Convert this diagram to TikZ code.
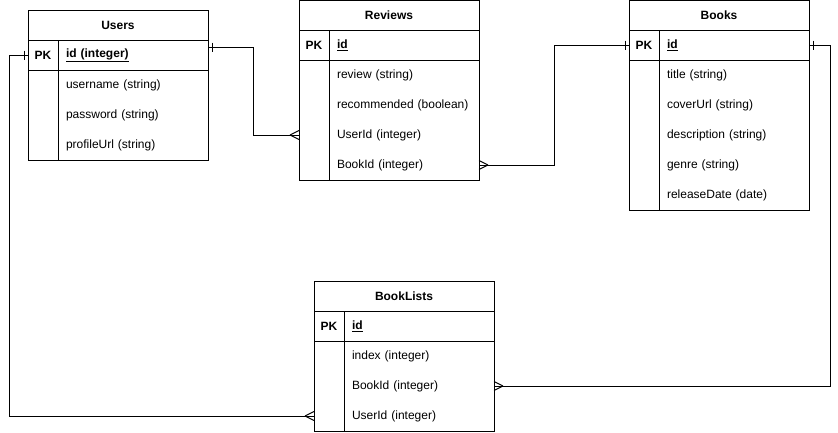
\documentclass[tikz,border=0pt]{standalone}
\usepackage{fontspec}
\setmainfont{Liberation Sans}
\begin{document}
\begin{tikzpicture}[x=1bp,y=-1bp,line width=1bp,
            every node/.style={inner sep=0pt,outer sep=0pt,font=\fontsize{12bp}{14bp}\selectfont},
            hdr/.style={anchor=north west,minimum width=180bp,minimum height=30bp,font=\fontsize{12bp}{14bp}\selectfont\bfseries},
            keycell/.style={anchor=north west,minimum width=30bp,minimum height=30bp,font=\fontsize{12bp}{14bp}\selectfont\bfseries},
            field/.style={anchor=north west,minimum height=30bp,inner xsep=8bp,text width=134bp,align=left}]
            \useasboundingbox (0,0) rectangle (838,432);
            % Users
            \node[hdr] (users) at (28,10) {Users};
            \node[keycell] (users-pk) at (28,40) {PK};
            \node[field] (users-id) at (58,40) {\textbf{\underline{id (integer)}}};
            \node[field] (users-username) at (58,70) {username (string)};
            \node[field] (users-password) at (58,100) {password (string)};
            \node[field] (users-profileurl) at (58,130) {profileUrl (string)};
            \draw (users.north west) rectangle (users-profileurl.south east);
            \draw (users.south west) -- (users.south east);
            \draw (users-pk.south west) -- (users-id.south east);
            \draw (users-id.north west) -- (users-profileurl.south west);
            % Reviews
            \node[hdr] (reviews) at (299,0) {Reviews};
            \node[keycell] (rev-pk) at (299,30) {PK};
            \node[field] (rev-id) at (329,30) {\textbf{\underline{id}}};
            \node[field] (rev-review) at (329,60) {review (string)};
            \node[field] (rev-recommended) at (329,90) {recommended (boolean)};
            \node[field] (rev-userid) at (329,120) {UserId (integer)};
            \node[field] (rev-bookid) at (329,150) {BookId (integer)};
            \draw (reviews.north west) rectangle (rev-bookid.south east);
            \draw (reviews.south west) -- (reviews.south east);
            \draw (rev-pk.south west) -- (rev-id.south east);
            \draw (rev-id.north west) -- (rev-bookid.south west);
            % Books
            \node[hdr] (books) at (629,0) {Books};
            \node[keycell] (books-pk) at (629,30) {PK};
            \node[field] (books-id) at (659,30) {\textbf{\underline{id}}};
            \node[field] (books-title) at (659,60) {title (string)};
            \node[field] (books-coverurl) at (659,90) {coverUrl (string)};
            \node[field] (books-description) at (659,120) {description (string)};
            \node[field] (books-genre) at (659,150) {genre (string)};
            \node[field] (books-releasedate) at (659,180) {releaseDate (date)};
            \draw (books.north west) rectangle (books-releasedate.south east);
            \draw (books.south west) -- (books.south east);
            \draw (books-pk.south west) -- (books-id.south east);
            \draw (books-id.north west) -- (books-releasedate.south west);
            % BookLists
            \node[hdr] (booklists) at (314,281) {BookLists};
            \node[keycell] (bl-pk) at (314,311) {PK};
            \node[field] (bl-id) at (344,311) {\textbf{\underline{id}}};
            \node[field] (bl-index) at (344,341) {index (integer)};
            \node[field] (bl-bookid) at (344,371) {BookId (integer)};
            \node[field] (bl-userid) at (344,401) {UserId (integer)};
            \draw (booklists.north west) rectangle (bl-userid.south east);
            \draw (booklists.south west) -- (booklists.south east);
            \draw (bl-pk.south west) -- (bl-id.south east);
            \draw (bl-id.north west) -- (bl-userid.south west);
            % relations
            \draw ([yshift=8bp]users-id.east) -- ++(45,0) |- (rev-userid -| reviews.west);
            \draw ([xshift=4bp,yshift=8bp]users-id.east) ++(0,-4.5) -- ++(0,9);
            \draw (rev-userid -| reviews.west) ++(-9,0) -- ++(9,-4.5) ++(-9,4.5) -- ++(9,4.5);
            \draw (rev-bookid.east) -- ++(75,0) |- (books-pk.west);
            \draw ([xshift=-4bp]books-pk.west) ++(0,-4.5) -- ++(0,9);
            \draw (rev-bookid.east) ++(9,0) -- ++(-9,-4.5) ++(9,4.5) -- ++(-9,4.5);
            \draw (books-id.east) -- ++(21,0) |- (bl-bookid.east);
            \draw ([xshift=4bp]books-id.east) ++(0,-4.5) -- ++(0,9);
            \draw (bl-bookid.east) ++(9,0) -- ++(-9,-4.5) ++(9,4.5) -- ++(-9,4.5);
            \draw (users-pk.west) -- ++(-19,0) |- (bl-userid -| booklists.west);
            \draw ([xshift=-4bp]users-pk.west) ++(0,-4.5) -- ++(0,9);
            \draw (bl-userid -| booklists.west) ++(-9,0) -- ++(9,-4.5) ++(-9,4.5) -- ++(9,4.5);
        \end{tikzpicture}
\end{document}
